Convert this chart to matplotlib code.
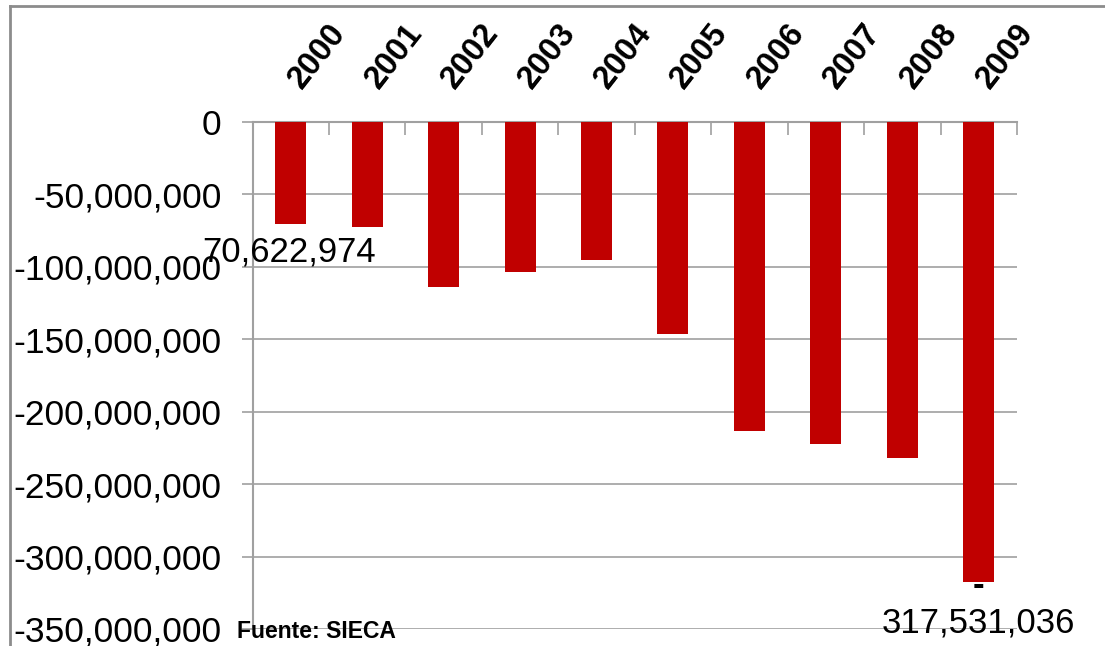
import matplotlib
matplotlib.use("Agg")
import matplotlib.pyplot as plt
from matplotlib.lines import Line2D
from matplotlib.ticker import FixedLocator, FuncFormatter

# Saldo comercial por año
years = ["2000", "2001", "2002", "2003", "2004",
         "2005", "2006", "2007", "2008", "2009"]
balance = [-70622974, -72400000, -114200000, -103400000, -95400000,
           -146600000, -213400000, -222300000, -231800000, -317531036]
yticks = [0, -50000000, -100000000, -150000000, -200000000,
          -250000000, -300000000, -350000000]
source = "Fuente: SIECA"

plt.rcParams["font.family"] = ["Liberation Sans", "DejaVu Sans"]

W, H = 1105, 646
fig = plt.figure(figsize=(W / 100, H / 100), dpi=100)
ax = fig.add_axes([252.5 / W, 1 - 629 / H, (1017 - 252.5) / W, (629 - 121.8) / H])

red = "#C00000"
grey = "#A0A0A0"

x = list(range(len(years)))
ax.bar(x, balance, width=0.405, color=red, zorder=3)

ax.set_xlim(-0.5, len(years) - 0.5)
ax.set_ylim(-350000000, 0)

# y axis
ax.yaxis.set_major_locator(FixedLocator(yticks))
ax.yaxis.set_major_formatter(FuncFormatter(lambda v, p: f"{int(v):,}"))
ax.tick_params(axis="y", which="major", length=7.9, width=1.2, color=grey,
               pad=14.4, labelsize=25.5, direction="out")
ax.grid(axis="y", color=grey, linewidth=1.2, zorder=0)

# category axis sits on the zero line, at the top
ax.xaxis.tick_top()
ax.set_xticks(x)
ax.set_xticklabels([])
ax.tick_params(axis="x", which="major", length=0)
ax.set_xticks([i - 0.5 for i in range(len(years) + 1)], minor=True)
ax.tick_params(axis="x", which="minor", length=9.5, width=1.2, color=grey,
               direction="in", top=True, bottom=False)

for side in ["right", "bottom"]:
    ax.spines[side].set_visible(False)
for side in ["left", "top"]:
    ax.spines[side].set_color(grey)
    ax.spines[side].set_linewidth(1.5)

# year labels, rotated above the zero line
for i, yr in enumerate(years):
    ax.annotate(yr, xy=(i, 0), xytext=(27, 66), textcoords="offset pixels",
                ha="center", va="center", rotation=52, fontsize=23.5,
                fontweight="bold", annotation_clip=False)

# data labels for first and last year
ax.annotate(f"{abs(balance[0]):,}", xy=(0, balance[0]), xytext=(-2, -28),
            textcoords="offset pixels", ha="center", va="center",
            fontsize=25, annotation_clip=False, zorder=5)
ax.annotate("-", xy=(9, balance[9]), xytext=(0, -4),
            textcoords="offset pixels", ha="center", va="center",
            fontsize=25, fontweight="bold", annotation_clip=False, zorder=5)
ax.annotate(f"{abs(balance[9]):,}", xy=(9, balance[9]), xytext=(0, -41),
            textcoords="offset pixels", ha="center", va="center",
            fontsize=25, annotation_clip=False, zorder=5)

fig.text(237 / W, 1 - 631 / H, source, ha="left", va="center",
         fontsize=16.5, fontweight="bold")

# outer frame (top and left edges)
fig.add_artist(Line2D([10 / W, 1], [1 - 6 / H, 1 - 6 / H], color="#8C8C8C",
                      linewidth=2, transform=fig.transFigure))
fig.add_artist(Line2D([10 / W, 10 / W], [0, 1 - 6 / H], color="#8C8C8C",
                      linewidth=2, transform=fig.transFigure))

fig.savefig("out.png", dpi=100)
